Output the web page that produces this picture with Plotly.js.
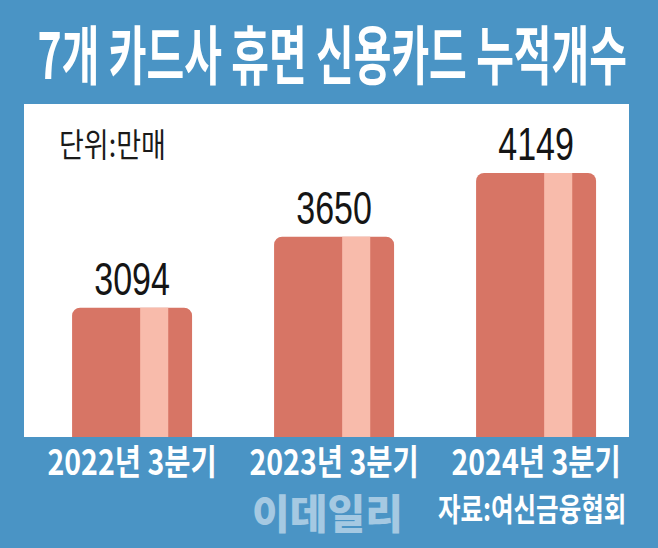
<!DOCTYPE html>
<html>
<head>
<meta charset="utf-8">
<script src="https://cdn.plot.ly/plotly-3.0.1.min.js"></script>
<style>
  html, body { margin: 0; padding: 0; background: #4a94c5; }
  #chart { width: 658px; height: 548px; }
</style>
</head>
<body>
<div id="chart"></div>
<script>
// ---- data ----
const categories = ['2022년 3분기', '2023년 3분기', '2024년 3분기'];
const values = [3094, 3650, 4149];
const valueLabels = ['3094', '3650', '4149'];
const titleText = '7개 카드사 휴면 신용카드 누적개수';
const unitText = '단위:만매';
const sourceText = '자료:여신금융협회';
const watermarkText = '이데일리';

// ---- style ----
const BLUE = '#4a94c5';
const BAR = '#d77565';
const STRIPE = '#f8bbab';
const KR = 'Noto Sans CJK KR';

const mainBars = {
  type: 'bar',
  x: categories,
  y: values,
  width: 0.594,
  marker: { color: BAR, cornerradius: 8, line: { width: 0 } },
  text: valueLabels,
  textposition: 'outside',
  cliponaxis: false,
  constraintext: 'none',
  textangle: 0,
  textfont: { family: 'Liberation Sans, Arial, sans-serif', size: 46, color: '#151515' },
  hoverinfo: 'x+y',
  showlegend: false
};

const stripeBars = {
  type: 'bar',
  x: categories,
  y: values,
  width: 0.139,
  offset: 0.04,
  marker: { color: STRIPE, line: { width: 0 } },
  hoverinfo: 'skip',
  showlegend: false
};

const layout = {
  width: 658,
  height: 548,
  paper_bgcolor: BLUE,
  plot_bgcolor: '#ffffff',
  margin: { l: 24, r: 29, t: 104, b: 111, pad: 0 },
  barmode: 'overlay',
  title: {
    text: titleText,
    font: { family: KR, size: 41, color: '#ffffff', weight: 700 },
    x: 0.505, xref: 'container', xanchor: 'center',
    y: 0.9, yref: 'container', yanchor: 'middle'
  },
  xaxis: {
    type: 'category',
    range: [-0.535, 2.46],
    showgrid: false, zeroline: false, showline: false,
    ticks: '',
    tickfont: { family: KR, size: 28.5, color: '#ffffff', weight: 700 },
    ticklabelstandoff: 5,
    fixedrange: true
  },
  yaxis: {
    range: [2081, 4689],
    showgrid: false, zeroline: false, showline: false,
    showticklabels: false, ticks: '',
    fixedrange: true
  },
  annotations: [
    {
      text: unitText, xref: 'paper', yref: 'paper',
      x: 0.0545, y: 0.88, xanchor: 'left', yanchor: 'middle',
      showarrow: false,
      font: { family: KR, size: 27, color: '#1a1a1a', weight: 400 }
    },
    {
      text: watermarkText, xref: 'paper', yref: 'paper',
      x: 0.501, y: -0.222, xanchor: 'center', yanchor: 'middle',
      showarrow: false, borderpad: 0,
      font: { family: KR, size: 41, color: '#a5c9e2', weight: 900 }
    },
    {
      text: sourceText, xref: 'paper', yref: 'paper',
      x: 0.998, y: -0.213, xanchor: 'right', yanchor: 'middle',
      showarrow: false,
      font: { family: KR, size: 24.5, color: '#ffffff', weight: 700 }
    }
  ],
  showlegend: false
};

function stretch(nodes, sx, sy) {
  nodes.forEach(function (el) {
    if (!el) return;
    const b = el.getBBox();
    const cx = b.x + b.width / 2, cy = b.y + b.height / 2;
    const prev = el.getAttribute('transform') || '';
    el.setAttribute('transform', prev + ' translate(' + cx + ',' + cy + ') scale(' + sx + ',' + sy + ') translate(' + (-cx) + ',' + (-cy) + ')');
  });
}

Plotly.newPlot('chart', [mainBars, stripeBars], layout, { displayModeBar: false, staticPlot: true }).then(function (gd) {
  stretch(gd.querySelectorAll('.gtitle'), 1, 1.55);
  stretch(gd.querySelectorAll('.xtick text'), 1, 1.25);
  stretch(gd.querySelectorAll('.bartext'), 0.74, 1);
  const ann = gd.querySelectorAll('.annotation-text');
  stretch([ann[0]], 1, 1.2);
  stretch([ann[2]], 1, 1.3);
});
</script>
</body>
</html>
